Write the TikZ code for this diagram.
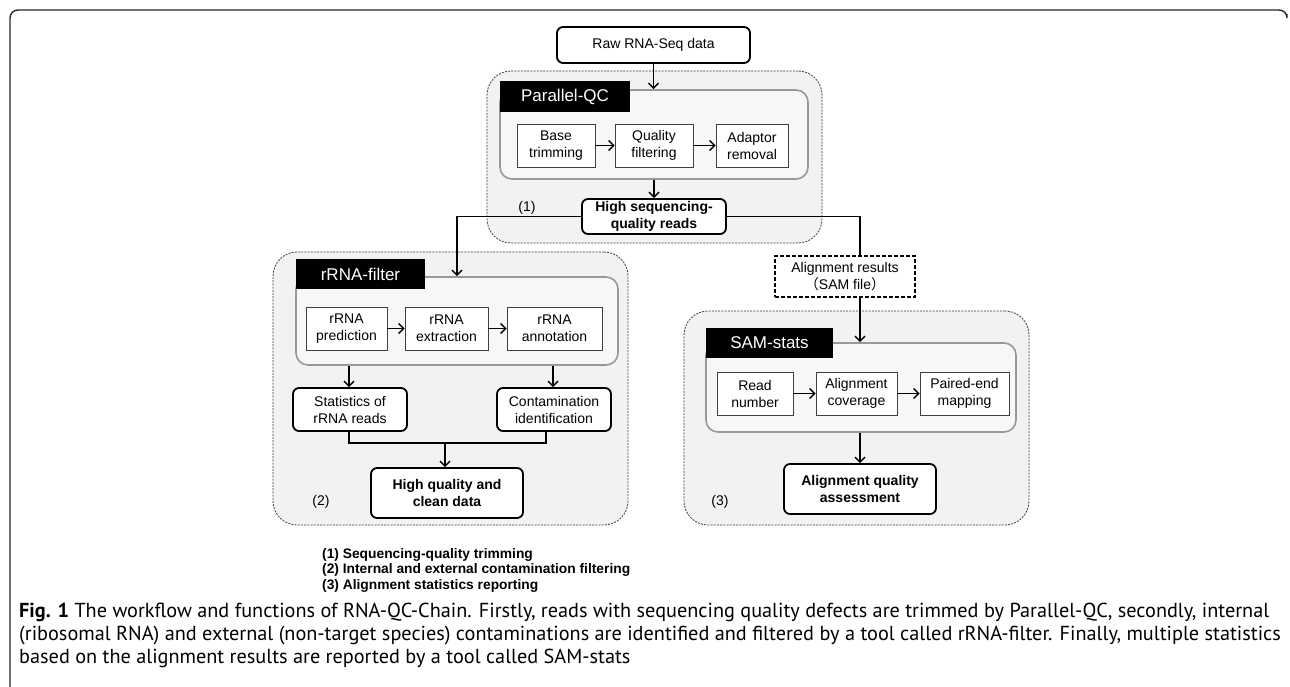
\documentclass[tikz,border=0pt]{standalone}
\usepackage{fontspec}
\setmainfont{Liberation Sans}
\newfontfamily\capfont{PT Sans}
\newfontfamily\cjkfont{Noto Sans CJK SC}
\usetikzlibrary{arrows.meta}
\newlength\capw
\newlength\legw
\newcommand\capone{\textbf{Fig. 1} The workflow and functions of RNA-QC-Chain. Firstly, reads with sequencing quality defects are trimmed by Parallel-QC, secondly, internal}
\newcommand\captwo{(ribosomal RNA) and external (non-target species) contaminations are identified and filtered by a tool called rRNA-filter. Finally, multiple statistics}
\newcommand\capthree{based on the alignment results are reported by a tool called SAM-stats}
\newcommand\capfs{\capfont\fontsize{18}{22}\selectfont}
\newcommand\legfs{\fontsize{12}{14}\selectfont\bfseries}
\begin{document}
\settowidth\legw{\legfs (2) Internal and external contamination filtering}%
\settowidth\capw{\capfs\capone}%
\pgfmathsetmacro\legscale{308/\legw}%
\pgfmathsetmacro\capscale{1250/\capw}%
\begin{tikzpicture}[x=1pt,y=-1pt,
  region/.style={draw=black!75, line width=0.8pt, dash pattern=on 2pt off 1.2pt, fill=black!5, rounded corners=24pt, inner sep=0pt},
  container/.style={draw=black!40, line width=1.6pt, fill=black!3, rounded corners=12pt, inner sep=0pt},
  tag/.style={fill=black, text=white, font=\fontsize{17}{20}\selectfont, inner sep=0pt, minimum height=30pt},
  stepbox/.style={draw=black!75, line width=0.9pt, fill=white, align=center, font=\fontsize{14}{17}\selectfont, inner sep=0pt, minimum height=43pt},
  resbox/.style={draw=black, line width=1.8pt, rounded corners=6pt, fill=white, align=center, font=\fontsize{14}{17}\selectfont, inner sep=0pt},
  boldbox/.style={resbox, font=\fontsize{14}{17}\selectfont\bfseries},
  flow/.style={line width=1.5pt, -{Straight Barb[length=5pt,width=10pt,line width=1.4pt]}},
  link/.style={line width=1.5pt},
  lbl/.style={font=\fontsize{14}{17}\selectfont, inner sep=0pt}
]
\useasboundingbox (0,0) rectangle (1290,687);
% outer frame
\draw[line width=1.4pt, black!85, rounded corners=8pt] (10,687) -- (10,10) -- (1287,10) -- (1287,14);

% regions
\node[region, minimum width=335pt, minimum height=172pt] (r1) at (654.5,157) {};
\node[region, minimum width=355pt, minimum height=273pt] (r2) at (450.5,388.5) {};
\node[region, minimum width=345pt, minimum height=214pt] (r3) at (856.5,418) {};

% containers
\node[container, minimum width=308pt, minimum height=89pt] (c1) at (654,134.5) {};
\node[container, minimum width=322pt, minimum height=88pt] (c2) at (457,321) {};
\node[container, minimum width=310pt, minimum height=89pt] (c3) at (861,387.5) {};

% tags
\node[tag, minimum width=130pt, minimum height=31pt] (t1) at (565,96.5) {Parallel-QC};
\node[tag, minimum width=129pt] (t2) at (360.5,274) {rRNA-filter};
\node[tag, minimum width=127pt] (t3) at (769.5,343) {SAM-stats};

% step boxes
\node[stepbox, minimum width=78pt] (base) at (556,145.5) {Base\\trimming};
\node[stepbox, minimum width=78pt] (qual) at (654,145.5) {Quality\\filtering};
\node[stepbox, minimum width=72pt] (adap) at (752,145.5) {Adaptor\\removal};
\node[stepbox, minimum width=81pt] (pred) at (346.5,328.5) {rRNA\\prediction};
\node[stepbox, minimum width=83pt] (extr) at (446.5,328.5) {rRNA\\extraction};
\node[stepbox, minimum width=95pt] (anno) at (554.5,328.5) {rRNA\\annotation};
\node[stepbox, minimum width=76pt] (readn) at (755,393.5) {Read\\number};
\node[stepbox, minimum width=81pt] (cov) at (856.5,393.5) {Alignment\\coverage};
\node[stepbox, minimum width=89pt] (pair) at (964.5,393.5) {Paired-end\\mapping};

% result boxes
\node[resbox, minimum width=193pt, minimum height=36pt] (raw) at (653.5,45) {Raw RNA-Seq data};
\node[boldbox, minimum width=144pt, minimum height=35pt] (hsq) at (654,216.5) {High sequencing-\\quality reads};
\node[resbox, minimum width=114pt, minimum height=43pt] (stat) at (350,409.5) {Statistics of\\rRNA reads};
\node[resbox, minimum width=114pt, minimum height=43pt] (cont) at (554,409.5) {Contamination\\identification};
\node[boldbox, minimum width=152pt, minimum height=50pt] (hqc) at (447,493) {High quality and\\clean data};
\node[boldbox, minimum width=152pt, minimum height=50pt] (aqa) at (860,489) {Alignment quality\\assessment};
\node[draw=black, line width=1.8pt, dash pattern=on 4pt off 2pt, fill=white, minimum width=140pt, minimum height=41pt, align=center, font=\fontsize{14}{17}\selectfont, inner sep=0pt] (sam) at (845,276.5) {Alignment results\\{\cjkfont （}SAM file{\cjkfont ）}};

% labels
\node[lbl] (l1) at (527,208) {(1)};
\node[lbl] (l2) at (321,502) {(2)};
\node[lbl] (l3) at (720,502) {(3)};

% coordinates
\coordinate (hl) at (457,216.5);
\coordinate (hr) at (860,216.5);
\coordinate (sx) at (349,0);
\coordinate (cx) at (553,0);
\coordinate (cx2) at (546,0);
\coordinate (m) at (445,443);

% connectors
\draw[flow] (raw.south) -- (raw.south |- c1.north);
\draw[flow] (base.east) -- (qual.west);
\draw[flow] (qual.east) -- (adap.west);
\draw[flow] (c1.south -| hsq.north) -- (hsq.north);
\draw[flow] (hsq.west) -- (hl) -- (hl |- c2.north);
\draw[link] (hsq.east) -- (hr) -- (hr |- sam.north);
\draw[flow] (sam.south -| hr) -- (hr |- c3.north);
\draw[flow] (pred.east) -- (extr.west);
\draw[flow] (extr.east) -- (anno.west);
\draw[flow] (c2.south -| sx) -- (stat.north -| sx);
\draw[flow] (c2.south -| cx) -- (cont.north -| cx);
\draw[link] (stat.south -| sx) -- (sx |- m) -- (cx2 |- m) -- (cont.south -| cx2);
\draw[flow] (m) -- (hqc.north -| m);
\draw[flow] (readn.east) -- (cov.west);
\draw[flow] (cov.east) -- (pair.west);
\draw[flow] (c3.south -| hr) -- (hr |- aqa.north);

% legend
\node[anchor=base west, inner sep=0pt] (leg1) at (322,558) {\scalebox{\legscale}{\legfs (1) Sequencing-quality trimming}};
\node[anchor=base west, inner sep=0pt] (leg2) at (322,573.5) {\scalebox{\legscale}{\legfs (2) Internal and external contamination filtering}};
\node[anchor=base west, inner sep=0pt] (leg3) at (322,589) {\scalebox{\legscale}{\legfs (3) Alignment statistics reporting}};

% caption
\node[anchor=base west, inner sep=0pt] (cap1) at (19,617) {\scalebox{\capscale}{\capfs\capone}};
\node[anchor=base west, inner sep=0pt] (cap2) at (19,640) {\scalebox{\capscale}{\capfs\captwo}};
\node[anchor=base west, inner sep=0pt] (cap3) at (19,663) {\scalebox{\capscale}{\capfs\capthree}};
\end{tikzpicture}
\end{document}
